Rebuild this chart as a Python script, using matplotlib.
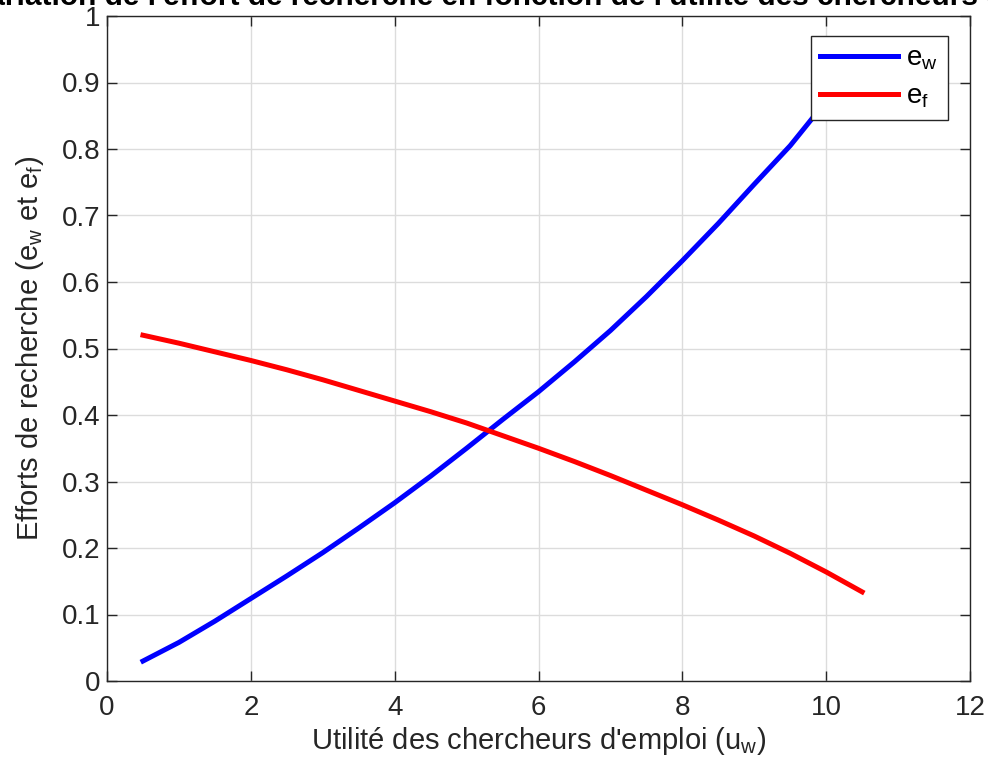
import matplotlib.pyplot as plt
import numpy as np
from matplotlib.ticker import FormatStrFormatter

plt.rcParams['font.family'] = ['Liberation Sans', 'DejaVu Sans']
plt.rcParams['mathtext.fontset'] = 'custom'
plt.rcParams['mathtext.rm'] = 'Liberation Sans'
plt.rcParams['mathtext.it'] = 'Liberation Sans'

# utilite des chercheurs d'emploi
u_w = [0.5, 1.0, 1.5, 2.0, 2.5, 3.0, 3.5, 4.0, 4.5, 5.0, 5.5,
       6.0, 6.5, 7.0, 7.5, 8.0, 8.5, 9.0, 9.5, 10.0, 10.5]
# effort des travailleurs
e_w = [0.030, 0.058, 0.090, 0.124, 0.158, 0.193, 0.230, 0.268, 0.308, 0.350, 0.393,
       0.435, 0.480, 0.527, 0.578, 0.632, 0.688, 0.747, 0.805, 0.872, 0.940]
# effort des firmes
e_f = [0.520, 0.508, 0.495, 0.482, 0.468, 0.453, 0.437, 0.421, 0.405, 0.388, 0.369,
       0.350, 0.330, 0.309, 0.287, 0.265, 0.242, 0.218, 0.192, 0.164, 0.134]

fs = 20
fig = plt.figure(figsize=(9.88, 7.61), dpi=100)
ax = fig.add_axes([107/988, 1-681/761, (970-107)/988, (681-16)/761])

ax.plot(u_w, e_w, color='#0000ff', lw=3.6, label=r'e$_{\mathrm{w}}$')
ax.plot(u_w, e_f, color='#ff0000', lw=3.6, label=r'e$_{\mathrm{f}}$')

ax.set_xlim(0, 12)
ax.set_ylim(0, 1)
ax.set_xticks(np.arange(0, 13, 2))
ax.set_yticks(np.arange(0, 1.01, 0.1))
ax.yaxis.set_major_formatter(FormatStrFormatter('%g'))
ax.grid(True, color='#dcdcdc', lw=1)
ax.set_axisbelow(True)
ax.tick_params(direction='in', top=True, right=True, length=7, width=1,
               color='#262626', labelsize=fs, labelcolor='#262626', pad=5)
ax.tick_params(axis='x', pad=10)
for s in ax.spines.values():
    s.set_color('#262626')
    s.set_linewidth(1)

ax.set_xlabel(r"Utilité des chercheurs d'emploi (u$_{\mathrm{w}}$)", fontsize=21, color='#262626', labelpad=3)
ax.set_ylabel(r"Efforts de recherche (e$_{\mathrm{w}}$ et e$_{\mathrm{f}}$)", fontsize=21, color='#262626', labelpad=11)
ax.set_title("Variation de l'effort de recherche en fonction de l'utilité des chercheurs d'emploi",
             fontsize=21.5, fontweight='bold', pad=8)

leg = ax.legend(loc='upper right', bbox_to_anchor=(948/988, 1-36/761), bbox_transform=fig.transFigure,
                fontsize=fs, fancybox=False, framealpha=1, edgecolor='#262626',
                handlelength=2.8, borderaxespad=0, borderpad=0.35, labelspacing=0.4, handletextpad=0.3)
leg.get_frame().set_linewidth(1)

fig.savefig('out.png', dpi=100)
